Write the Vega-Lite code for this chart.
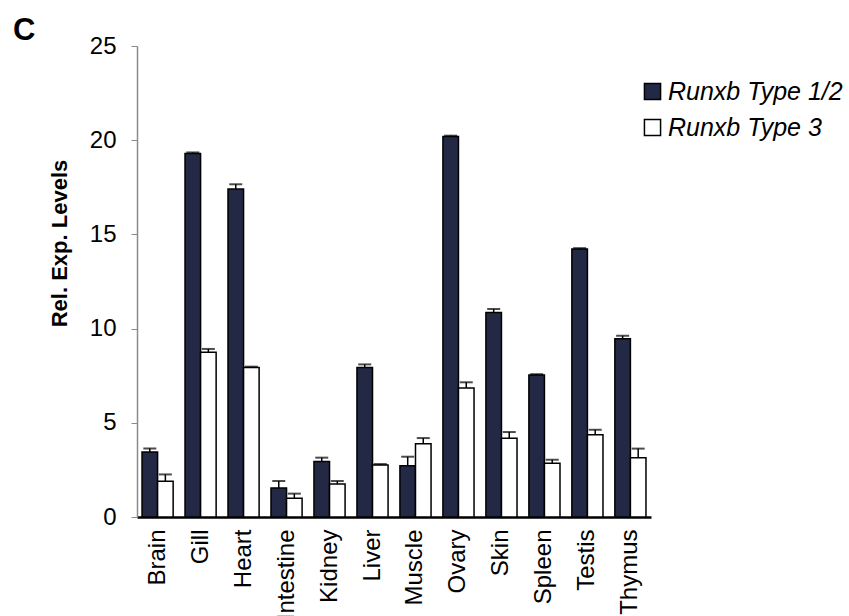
{
  "$schema": "https://vega.github.io/schema/vega-lite/v6.json",
  "width": 514,
  "height": 471,
  "autosize": {"type": "none"},
  "padding": {"left": 137, "top": 46, "right": 198, "bottom": 99},
  "background": "white",
  "config": {
    "font": "Liberation Sans",
    "view": {"stroke": null}
  },
  "title": {
    "text": "C",
    "anchor": "start",
    "frame": "group",
    "dx": -124,
    "dy": 24,
    "offset": -13,
    "baseline": "alphabetic",
    "fontSize": 31,
    "fontWeight": "bold",
    "font": "Liberation Sans",
    "color": "black"
  },
  "data": {
    "values": [
      {"tissue": "Brain", "type": "Runxb Type 1/2", "value": 3.45, "upper": 3.63},
      {"tissue": "Brain", "type": "Runxb Type 3", "value": 1.9, "upper": 2.26},
      {"tissue": "Gill", "type": "Runxb Type 1/2", "value": 19.3, "upper": 19.35},
      {"tissue": "Gill", "type": "Runxb Type 3", "value": 8.74, "upper": 8.92},
      {"tissue": "Heart", "type": "Runxb Type 1/2", "value": 17.41, "upper": 17.66},
      {"tissue": "Heart", "type": "Runxb Type 3", "value": 7.93, "upper": 7.98},
      {"tissue": "Intestine", "type": "Runxb Type 1/2", "value": 1.54, "upper": 1.91},
      {"tissue": "Intestine", "type": "Runxb Type 3", "value": 0.99, "upper": 1.24},
      {"tissue": "Kidney", "type": "Runxb Type 1/2", "value": 2.95, "upper": 3.15},
      {"tissue": "Kidney", "type": "Runxb Type 3", "value": 1.75, "upper": 1.91},
      {"tissue": "Liver", "type": "Runxb Type 1/2", "value": 7.94, "upper": 8.1},
      {"tissue": "Liver", "type": "Runxb Type 3", "value": 2.76, "upper": 2.81},
      {"tissue": "Muscle", "type": "Runxb Type 1/2", "value": 2.72, "upper": 3.2},
      {"tissue": "Muscle", "type": "Runxb Type 3", "value": 3.89, "upper": 4.19},
      {"tissue": "Ovary", "type": "Runxb Type 1/2", "value": 20.19, "upper": 20.24},
      {"tissue": "Ovary", "type": "Runxb Type 3", "value": 6.85, "upper": 7.15},
      {"tissue": "Skin", "type": "Runxb Type 1/2", "value": 10.85, "upper": 11.04},
      {"tissue": "Skin", "type": "Runxb Type 3", "value": 4.18, "upper": 4.51},
      {"tissue": "Spleen", "type": "Runxb Type 1/2", "value": 7.54, "upper": 7.58},
      {"tissue": "Spleen", "type": "Runxb Type 3", "value": 2.85, "upper": 3.04},
      {"tissue": "Testis", "type": "Runxb Type 1/2", "value": 14.22, "upper": 14.27},
      {"tissue": "Testis", "type": "Runxb Type 3", "value": 4.37, "upper": 4.63},
      {"tissue": "Thymus", "type": "Runxb Type 1/2", "value": 9.46, "upper": 9.62},
      {"tissue": "Thymus", "type": "Runxb Type 3", "value": 3.15, "upper": 3.63}
    ]
  },
  "encoding": {
    "x": {
      "field": "tissue",
      "type": "nominal",
      "sort": null,
      "scale": {"paddingInner": 0.276, "paddingOuter": 0.117},
      "axis": {
        "title": null,
        "labelAngle": -90,
        "labelAlign": "right",
        "labelBaseline": "middle",
        "labelFontSize": 24,
        "labelColor": "black",
        "labelPadding": 12,
        "labelLimit": 300,
        "ticks": false,
        "domainColor": "black",
        "domainWidth": 2.5,
        "labelFont": "Liberation Sans"
      }
    },
    "xOffset": {
      "field": "type",
      "type": "nominal",
      "scale": {"paddingInner": 0, "paddingOuter": 0}
    }
  },
  "layer": [
    {
      "mark": {"type": "bar", "stroke": "black", "strokeWidth": 1.5},
      "encoding": {
        "y": {
          "field": "value",
          "type": "quantitative",
          "scale": {"domain": [0, 25], "nice": false},
          "axis": {
            "title": "Rel. Exp. Levels",
            "titleFontSize": 22,
            "titleFontWeight": "bold",
            "titleColor": "black",
            "titleFont": "Liberation Sans",
            "titleAngle": 270,
            "titleX": -66,
            "titleY": 197,
            "titleAlign": "center",
            "titleBaseline": "bottom",
            "values": [0, 5, 10, 15, 20, 25],
            "labelFontSize": 24,
            "labelColor": "black",
            "labelPadding": 15,
            "labelFont": "Liberation Sans",
            "tickSize": 6,
            "tickColor": "#8a8a8a",
            "domainColor": "#8a8a8a",
            "domainWidth": 1.5,
            "grid": false
          }
        },
        "fill": {
          "field": "type",
          "type": "nominal",
          "scale": {"range": ["#232845", "#ffffff"]},
          "legend": {
            "title": null,
            "orient": "none",
            "legendX": 503,
            "legendY": 33,
            "symbolType": "square",
            "symbolSize": 260,
            "symbolStrokeColor": "black",
            "symbolStrokeWidth": 1.5,
            "labelFontSize": 25,
            "labelFontStyle": "italic",
            "labelColor": "black",
            "labelFont": "Liberation Sans",
            "labelOffset": 3,
            "labelLimit": 400,
            "rowPadding": 10
          }
        }
      }
    },
    {
      "mark": {"type": "rule", "color": "black", "strokeWidth": 1.5},
      "encoding": {
        "y": {"field": "value", "type": "quantitative"},
        "y2": {"field": "upper"}
      }
    },
    {
      "mark": {"type": "tick", "color": "black", "thickness": 2, "size": 13},
      "encoding": {
        "y": {"field": "upper", "type": "quantitative"}
      }
    }
  ]
}
